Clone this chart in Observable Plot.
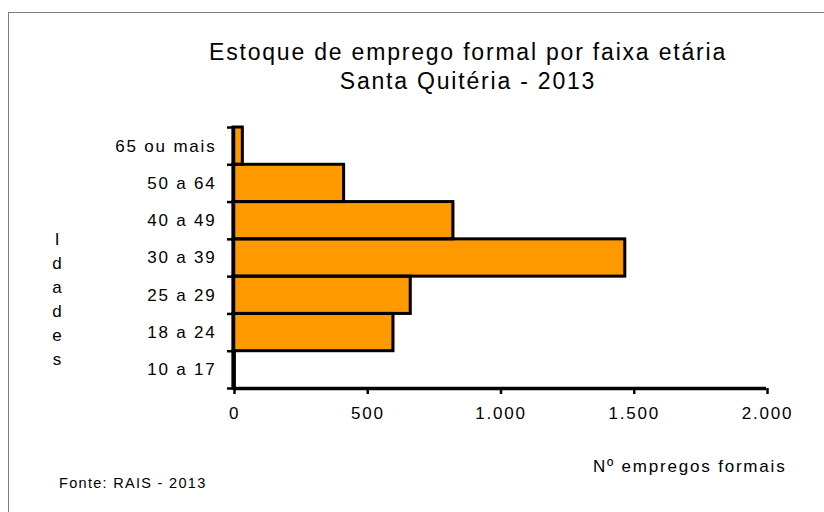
<!DOCTYPE html>
<html>
<head>
<meta charset="utf-8">
<script src="https://cdn.jsdelivr.net/npm/d3@7"></script>
<script src="https://cdn.jsdelivr.net/npm/@observablehq/plot@0.6"></script>
<style>
  html, body { margin: 0; padding: 0; background: #fff; overflow: hidden; }
  #wrap { position: relative; width: 824px; height: 512px; overflow: hidden; font-family: "Liberation Sans", Arial, sans-serif; color: #000; }
  #frame { position: absolute; left: 8px; top: 12px; width: 840px; height: 540px; border: 1px solid #808080; box-sizing: border-box; }
  #chart { position: absolute; left: 0; top: 0; }
  .t { position: absolute; white-space: nowrap; line-height: 1; }
  #title { left: 0; width: 936px; top: 38px; text-align: center; font-size: 23px; letter-spacing: 1.8px; line-height: 29px; }
  #ylab { left: 50px; top: 228px; width: 14px; text-align: center; font-size: 17px; line-height: 24px; }
  #xlab { left: 593px; top: 458px; font-size: 17px; letter-spacing: 1.8px; }
  #fonte { left: 59px; top: 476px; font-size: 14.5px; letter-spacing: 1.3px; }
</style>
</head>
<body>
<div id="wrap">
  <div id="frame"></div>
  <div id="chart"></div>
  <div class="t" id="title">Estoque de emprego formal por faixa etária<br>Santa Quitéria - 2013</div>
  <div class="t" id="ylab">I<br>d<br>a<br>d<br>e<br>s</div>
  <div class="t" id="xlab">Nº empregos formais</div>
  <div class="t" id="fonte">Fonte: RAIS - 2013</div>
</div>
<script>
// Age groups (bottom to top) and formal jobs
const faixas = ["10 a 17", "18 a 24", "25 a 29", "30 a 39", "40 a 49", "50 a 64", "65 ou mais"];
const empregos = [5, 600, 665, 1470, 825, 415, 35];
const xTicks = [0, 500, 1000, 1500, 2000];

const data = faixas.map((f, i) => ({faixa: f, idx: i, valor: empregos[i]}));
const ptBR = d3.formatLocale({decimal: ",", thousands: ".", grouping: [3], currency: ["R$", ""]});
const fmt = ptBR.format(",");

const chart = Plot.plot({
  width: 824,
  height: 512,
  marginLeft: 233,
  marginRight: 58,
  marginTop: 127,
  marginBottom: 124,
  style: {fontFamily: "'Liberation Sans', Arial, sans-serif", fontSize: "17px", letterSpacing: "1.8px", color: "#000", background: "transparent"},
  x: {domain: [0, 2000]},
  y: {domain: [0, faixas.length]},
  marks: [
    Plot.rect(data, {x1: 0, x2: "valor", y1: "idx", y2: d => d.idx + 1, fill: "#FF9900", dx: 1.5, dy: 1}),
    Plot.rect(data, {x1: 0, x2: "valor", y1: "idx", y2: d => d.idx + 1, fill: "none", stroke: "#000", strokeWidth: 3}),
    Plot.axisY({ticks: d3.range(0, faixas.length + 1), tickFormat: () => "", tickSize: 6, stroke: "#000", strokeWidth: 2.5, label: null}),
    Plot.text(data, {x: 0, y: d => d.idx + 0.5, text: "faixa", textAnchor: "end", dx: -17, fontSize: 17, fill: "#000"}),
    Plot.axisX({ticks: xTicks, tickFormat: fmt, tickSize: 6, tickPadding: 12, stroke: "#000", strokeWidth: 2.5, fontSize: 17, fill: "#000", label: null, dx: 1}),
    Plot.ruleX([0], {stroke: "#000", strokeWidth: 3.5}),
    Plot.ruleY([0], {stroke: "#000", strokeWidth: 3.5})
  ]
});
document.getElementById("chart").appendChild(chart);
</script>
</body>
</html>
